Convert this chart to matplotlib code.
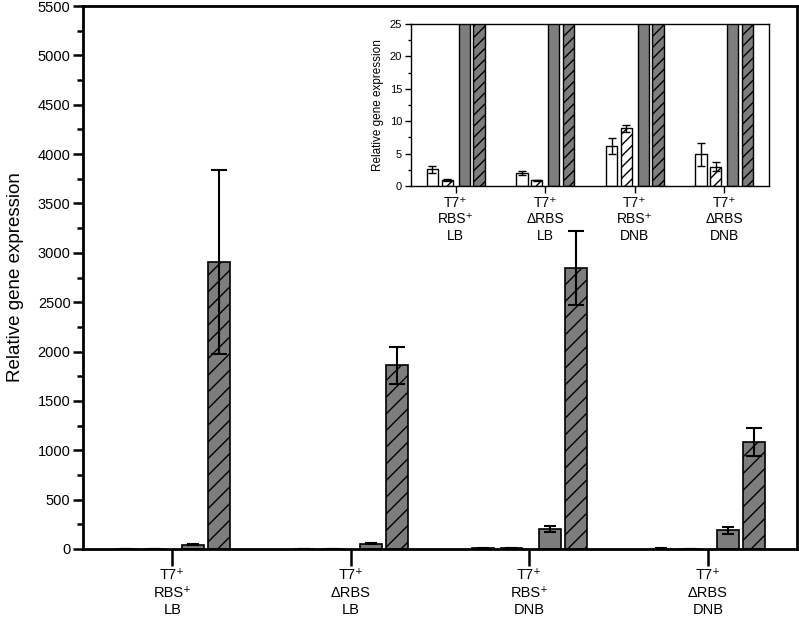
import matplotlib
matplotlib.use('Agg')
import matplotlib.pyplot as plt
from matplotlib.ticker import MultipleLocator
import numpy as np

plt.rcParams['font.family'] = ['Liberation Sans', 'DejaVu Sans']
plt.rcParams['hatch.linewidth'] = 1.0

groups = ['T7⁺\nRBS⁺\nLB', 'T7⁺\nΔRBS\nLB',
          'T7⁺\nRBS⁺\nDNB', 'T7⁺\nΔRBS\nDNB']

# four series per group
white_open = [2.55, 2.0, 6.15, 4.9]
white_open_err = [0.6, 0.3, 1.2, 1.8]
white_hatch = [0.9, 0.85, 8.9, 3.0]
white_hatch_err = [0.2, 0.1, 0.55, 0.65]
gray_solid = [45, 55, 200, 190]
gray_solid_err = [8, 3, 28, 35]
gray_hatch = [2910, 1860, 2850, 1085]
gray_hatch_err = [930, 190, 375, 140]

gray = '#7d7d7d'
x = np.arange(len(groups))

fig = plt.figure(figsize=(7.99, 6.25), dpi=100)
ax = fig.add_axes([0.1039, 0.1216, 0.8936, 0.8688])


def draw(a, offs, w, lw, hatch_main, caps, elw):
    series = [
        (white_open, white_open_err, 'white', ''),
        (white_hatch, white_hatch_err, 'white', hatch_main),
        (gray_solid, gray_solid_err, gray, ''),
        (gray_hatch, gray_hatch_err, gray, hatch_main),
    ]
    for k, (vals, errs, fc, h) in enumerate(series):
        a.bar(x + offs[k], vals, w, color=fc, edgecolor='black',
              linewidth=lw, hatch=h, zorder=2)
        a.errorbar(x + offs[k], vals, yerr=errs, fmt='none', ecolor='black',
                   elinewidth=elw, capsize=caps[k], capthick=elw, zorder=3)


draw(ax, [-0.26, -0.1, 0.115, 0.26], 0.122, 1.2, '//', [4, 4, 4, 6], 1.5)
ax.set_xlim(-0.5, 3.5)
ax.set_ylim(0, 5500)
ax.yaxis.set_major_locator(MultipleLocator(500))
ax.yaxis.set_minor_locator(MultipleLocator(250))
ax.set_xticks(x)
ax.set_xticklabels(groups, fontsize=10.5, linespacing=1.3)
ax.tick_params(axis='y', which='major', length=7, width=1.8, labelsize=10.5, pad=2)
ax.tick_params(axis='y', which='minor', length=4, width=1.8)
ax.tick_params(axis='x', length=12, width=1.8, pad=2)
for s in ax.spines.values():
    s.set_linewidth(2)
ax.set_ylabel('Relative gene expression', fontsize=13.5, labelpad=10)

# inset
ins = fig.add_axes([0.5144, 0.7024, 0.4481, 0.2592])
draw(ins, [-0.26, -0.095, 0.095, 0.26], 0.125, 1.0, '///', [3, 3, 3, 3], 1.0)
ins.set_xlim(-0.5, 3.5)
ins.set_ylim(0, 25)
ins.yaxis.set_major_locator(MultipleLocator(5))
ins.yaxis.set_minor_locator(MultipleLocator(2.5))
ins.set_xticks(x)
ins.set_xticklabels(groups, fontsize=10, linespacing=1.25)
ins.tick_params(axis='y', which='major', length=4.5, width=1, labelsize=8, pad=2)
ins.tick_params(axis='y', which='minor', length=2.5, width=1)
ins.tick_params(axis='x', length=5, width=1, pad=2)
for s in ins.spines.values():
    s.set_linewidth(1)
ins.set_ylabel('Relative gene expression', fontsize=8.5, labelpad=4)

fig.savefig('out.png', dpi=100)
